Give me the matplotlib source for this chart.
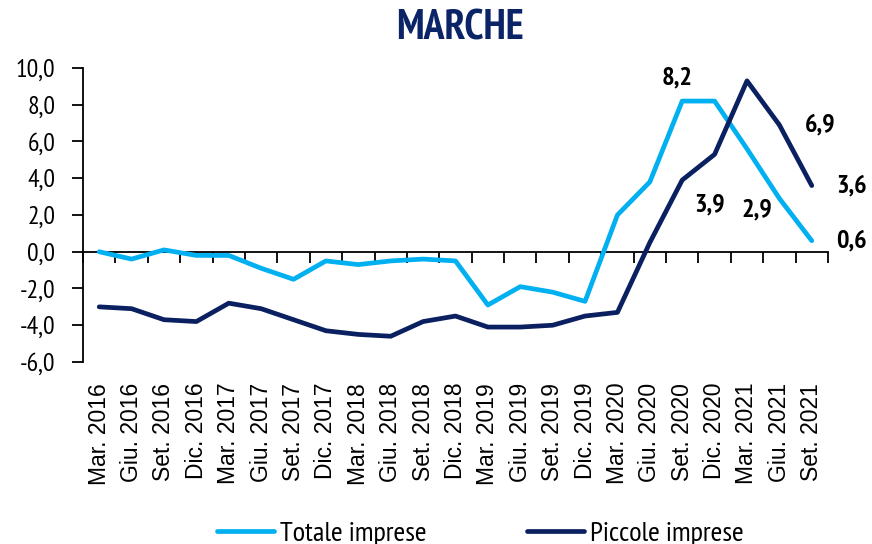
import numpy as np
import matplotlib.pyplot as plt
from matplotlib import font_manager

periods = ['Mar. 2016', 'Giu. 2016', 'Set. 2016', 'Dic. 2016',
           'Mar. 2017', 'Giu. 2017', 'Set. 2017', 'Dic. 2017',
           'Mar. 2018', 'Giu. 2018', 'Set. 2018', 'Dic. 2018',
           'Mar. 2019', 'Giu. 2019', 'Set. 2019', 'Dic. 2019',
           'Mar. 2020', 'Giu. 2020', 'Set. 2020', 'Dic. 2020',
           'Mar. 2021', 'Giu. 2021', 'Set. 2021']
totale = [0.0, -0.4, 0.1, -0.2, -0.2, -0.9, -1.5, -0.5, -0.7, -0.5, -0.4, -0.5,
          -2.9, -1.9, -2.2, -2.7, 2.0, 3.8, 8.2, 8.2, 5.6, 2.9, 0.6]
piccole = [-3.0, -3.1, -3.7, -3.8, -2.8, -3.1, -3.7, -4.3, -4.5, -4.6, -3.8, -3.5,
           -4.1, -4.1, -4.0, -3.5, -3.3, 0.5, 3.9, 5.3, 9.3, 6.9, 3.6]

light = '#00B0F0'
dark = '#0A2060'

names = {f.name for f in font_manager.fontManager.ttflist}
narrow = next((n for n in ['Liberation Sans Narrow', 'Arial Narrow', 'PT Sans Narrow',
                           'DejaVu Sans'] if n in names), 'DejaVu Sans')
regular = 'Liberation Sans'

fig = plt.figure(figsize=(8.72, 5.44), dpi=100)
ax = fig.add_axes([0.0952, 0.3346, 0.8543, 0.5404])

x = np.arange(len(periods))
ax.plot(x, totale, color=light, lw=3.4, solid_capstyle='round', solid_joinstyle='round', label='Totale imprese')
ax.plot(x, piccole, color=dark, lw=3.4, solid_capstyle='round', solid_joinstyle='round', label='Piccole imprese')

ax.set_xlim(-0.5, len(periods) - 0.5)
ax.set_ylim(-6, 10)
ax.set_yticks(np.arange(-6, 11, 2))
ax.set_yticklabels([f'{v:.1f}'.replace('.', ',') for v in np.arange(-6, 11, 2)],
                   fontfamily=narrow, fontsize=18.5)
ax.tick_params(axis='y', direction='out', length=8, width=1.3, pad=12)

ax.set_xticks(x)
ax.set_xticklabels(periods, rotation=90, fontfamily=regular, fontsize=16.5)
ax.tick_params(axis='x', length=0, pad=15)

for s in ['top', 'right', 'bottom']:
    ax.spines[s].set_visible(False)
ax.spines['left'].set_linewidth(1.3)

# zero line with category-boundary ticks
zero = ax.secondary_xaxis(0, transform=ax.transData)
zero.set_xticks(np.arange(-0.5, len(periods), 1.0))
zero.tick_params(direction='out', length=8, width=1.3, labelbottom=False)
zero.spines['bottom'].set_linewidth(1.3)

lab = dict(fontfamily=narrow, fontsize=19, fontweight='bold', ha='center', va='center',
           textcoords='offset points')
ax.annotate('8,2', (18, totale[18]), xytext=(-4, 16.5), **lab)
ax.annotate('3,9', (18, piccole[18]), xytext=(19.7, -18), **lab)
ax.annotate('2,9', (21, totale[21]), xytext=(-16.3, -8.6), **lab)
ax.annotate('6,9', (21, piccole[21]), xytext=(29.5, 0), **lab)
ax.annotate('3,6', (22, piccole[22]), xytext=(28.8, 0), **lab)
ax.annotate('0,6', (22, totale[22]), xytext=(28.8, 0), **lab)

fig.text(0.528, 0.947, 'MARCHE', fontfamily=narrow, fontsize=30, fontweight='bold',
         color='#0B2467', ha='center', va='center')

fig.legend(loc='center', bbox_to_anchor=(0.551, 0.02), ncol=2, frameon=False,
           prop={'family': narrow, 'size': 20.5}, handlelength=2.0,
           handletextpad=0.22, columnspacing=3.5)

fig.savefig('out.png', dpi=100)
